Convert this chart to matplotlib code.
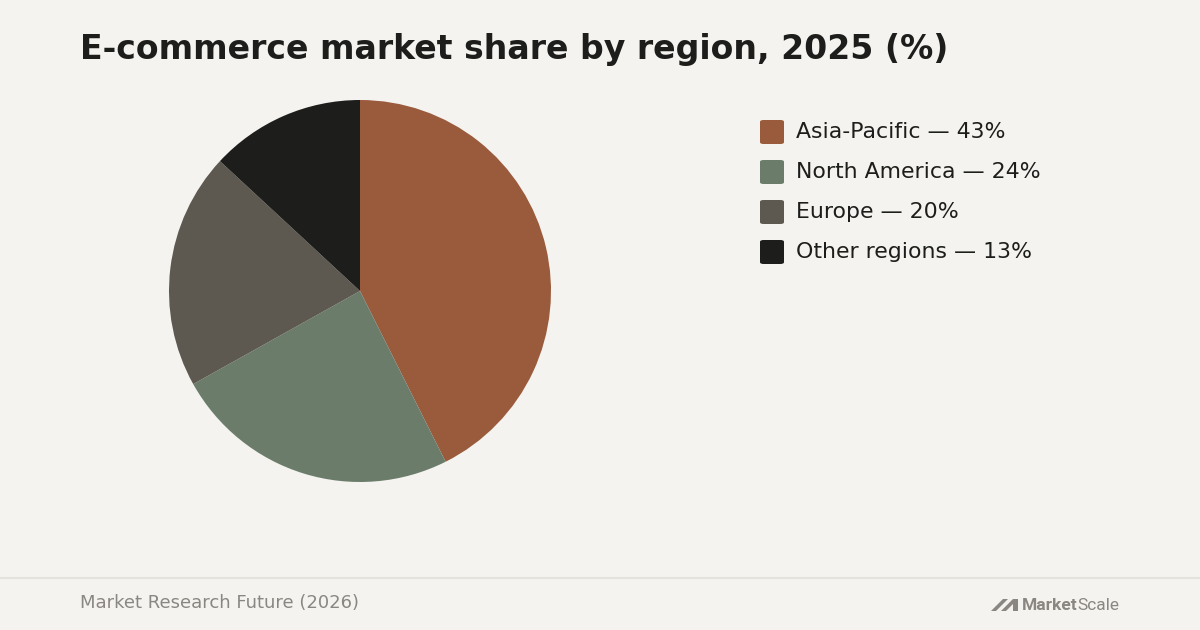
import matplotlib.pyplot as plt
from matplotlib.patches import FancyBboxPatch, Polygon

# dados
regions = ['Asia-Pacific', 'North America', 'Europe', 'Other regions']
shares = [42.6, 24.3, 20.0, 13.1]
colors = ['#9a5a3c', '#6b7d6a', '#5d5850', '#1d1d1b']

bg = '#f4f3ef'
W, H = 1200, 630

fig = plt.figure(figsize=(12, 6.3), dpi=100, facecolor=bg)

# pizza
ax = fig.add_axes([169 / W, (H - 291 - 191) / H, 382 / W, 382 / H])
ax.set_facecolor(bg)
ax.pie(shares, colors=colors, startangle=90, counterclock=False,
       wedgeprops=dict(linewidth=0))
ax.set_xlim(-1, 1)
ax.set_ylim(-1, 1)
ax.set_aspect('equal')
ax.axis('off')

# titulo
fig.text(80 / W, 1 - 50 / H, 'E-commerce market share by region, 2025 (%)',
         fontsize=23.85, fontweight='bold', color='#1d1d1b', va='center', ha='left')

# legenda
for i, (r, s, c) in enumerate(zip(regions, shares, colors)):
    yc = 132 + 40 * i
    box = FancyBboxPatch((760 / W, 1 - (yc + 12) / H), 24 / W, 24 / H,
                         boxstyle='round,pad=0,rounding_size=0.003',
                         transform=fig.transFigure, facecolor=c, edgecolor='none')
    fig.patches.append(box)
    fig.text(796 / W, 1 - yc / H, f'{r} \u2014 {s:.0f}%', fontsize=15.8,
             color='#1d1d1b', va='center', ha='left')

# rodape
fig.add_artist(plt.Line2D([0, 1], [1 - 578 / H, 1 - 578 / H],
                          color='#e4e2dd', linewidth=1.5, transform=fig.transFigure))
fig.text(80 / W, 1 - 603 / H, 'Market Research Future (2026)', fontsize=13,
         color='#8a8782', va='center', ha='left')

# logo
logo = '#8a8782'
for dx in (0, 10):
    pts = [(991 + dx, 611), (1003 + dx, 599), (1008 + dx, 599), (996 + dx, 611)]
    fig.patches.append(Polygon([(x / W, 1 - y / H) for x, y in pts],
                               closed=True, transform=fig.transFigure,
                               facecolor=logo, edgecolor='none'))
fig.patches.append(Polygon([(x / W, 1 - y / H) for x, y in
                            [(1013, 599), (1018, 599), (1018, 611), (1013, 611)]],
                           closed=True, transform=fig.transFigure,
                           facecolor=logo, edgecolor='none'))
t1 = fig.text(1022 / W, 1 - 605 / H, 'Market', fontsize=12.5, fontweight='bold',
              family='Roboto', color=logo, va='center', ha='left')
r = fig.canvas.get_renderer()
x_end = t1.get_window_extent(r).x1 / W
fig.text(x_end, 1 - 605 / H, 'Scale', fontsize=12.5, family='Roboto',
         color=logo, va='center', ha='left')

fig.savefig('out.png', dpi=100, facecolor=bg)
